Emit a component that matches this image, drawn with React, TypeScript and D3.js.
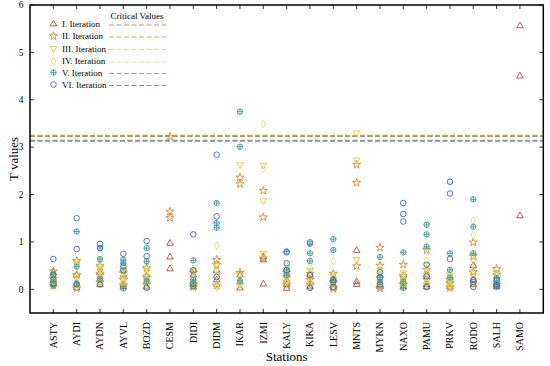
import React from "react";
import * as d3 from "d3";

const stations = ["ASTY","AYDI","AYDN","AYVL","BOZD","CESM","DIDI","DIDM","IKAR","IZMI","KALY","KIKA","LESV","MNTS","MYKN","NAXO","PAMU","PRKV","RODO","SALH","SAMO"];
const iterations = ["I. Iteration","II. Iteration","III. Iteration","IV. Iteration","V. Iteration","VI. Iteration"];
const criticalValues = [3.235, 3.228, 3.24, 3.245, 3.14, 3.128];
const yTicks = [0, 1, 2, 3, 4, 5, 6];

// values per station for each iteration (null = station excluded)
const iter1: (number[] | null)[] = [
  [0.35,0.2,0.1],[0.3,0.12,0.03],[0.35,0.2,0.1],[0.3,0.1,0.05],[0.3,0.15,0.05],[0.97,0.68,0.43],[0.3,0.15,0.05],[0.4,0.2,0.1],[0.3,0.15,0.03],[0.68,0.62,0.11],[0.2,0.1,0.02],[0.3,0.15,0.05],[0.2,0.1,0.03],[0.82,0.16,0.1],[0.3,0.1,0.05],[0.3,0.15,0.05],[0.3,0.1,0.05],[0.2,0.1,0.05],[0.5,0.2,0.1],[0.2,0.1,0.05],[5.56,4.5,1.55]
];
const iter2: (number[] | null)[] = [
  [0.38,0.22,0.08],[0.6,0.3,0.02],[0.49,0.32,0.15],[0.34,0.2,0.08],[0.45,0.27,0.1],[3.22,1.64,1.51],[0.35,0.1,0.05],[0.62,0.52,0.08],[2.36,2.22,0.35],[2.08,1.52,0.65],[0.35,0.25,0.1],[0.33,0.2,0.1],[0.33,0.15,0.01],[2.63,2.25,0.49],[0.88,0.5,0.02],[0.52,0.28,0.1],[0.83,0.41,0.2],[0.2,0.12,0.03],[0.99,0.36,0.7],[0.43,0.3,0.1],null
];
const iter3: (number[] | null)[] = [
  [0.3,0.18,0.1],[0.55,0.3,0.05],[0.45,0.38,0.2],[0.4,0.25,0.1],[0.4,0.2,0.08],null,[0.4,0.15,0.08],[0.5,0.3,0.05],[2.63,0.3,0.1],[2.62,1.87,0.76],[0.45,0.3,0.15],[0.4,0.25,0.1],[0.3,0.2,0.05],[3.3,2.73,0.63],[0.4,0.2,0.1],[0.35,0.2,0.05],[0.5,0.3,0.1],[0.3,0.15,0.05],[0.6,0.3,0.1],[0.35,0.2,0.08],null
];
const iter4: (number[] | null)[] = [
  [0.28,0.15,0.06],[0.5,0.25,0.08],[0.6,0.3,0.15],[0.45,0.3,0.15],[0.5,0.3,0.12],null,[0.38,0.2,0.1],[0.92,0.4,0.1],[0.25,0.15,0.05],[3.49,2.55,0.72],[0.5,0.35,0.2],[0.47,0.3,0.15],[0.59,0.25,0.1],null,[0.45,0.3,0.15],[0.3,0.15,0.1],[0.6,0.35,0.15],[0.35,0.2,0.1],[1.45,1.15,0.4],[0.3,0.15,0.1],null
];
const iter5: (number[] | null)[] = [
  [0.32,0.2,0.08],[1.22,0.48,0.12],[0.87,0.64,0.22],[0.62,0.55,0.02],[0.87,0.59,0.17],null,[0.61,0.2,0.07],[1.82,1.4,1.3],[3.75,3.01,0.18],null,[0.8,0.41,0.3],[0.96,0.76,0.6],[1.06,0.83,0.19],null,[0.68,0.25,0.15],[0.78,0.16,0.03],[1.36,1.16,0.9],[0.76,0.41,0.25],[1.9,1.32,0.76],[0.24,0.1,0.06],null
];
const iter6: (number[] | null)[] = [
  [0.64,0.3,0.12],[1.5,0.85,0.1],[0.96,0.87,0.1],[0.75,0.48,0.4],[1.02,0.7,0.03],null,[1.16,0.4,0.12],[2.84,1.54,0.26],null,null,[0.78,0.55,0.4],[0.99,0.3,0.03],[0.2,0.15,0.05],null,[0.36,0.25,0.1],[1.82,1.59,1.43],[0.52,0.27,0.05],[2.27,2.02,0.64],[0.2,0.05,0.15],[0.06,0.1,0.2],null
];
const allIterations = [iter1, iter2, iter3, iter4, iter5, iter6];

const markerColors = ["#a0563a", "#d08a30", "#dcc83c", "#d4e07a", "#3f9a9a", "#4068b8"];
const lineColors = ["#c49080", "#c8aa78", "#e2dc90", "#dfe8a8", "#8aacae", "#8c8cc8"];
const plotLineColors = ["#b07a60", "#a89848", "#c8c050", "#b4b45a", "#8aa4ac", "#8e86b8"];
const lineOrder = [0, 2, 3, 1, 4, 5];

const W = 550, H = 366;
const left = 30, right = 543.3, top = 5, bottom = 313;
const font = "Liberation Serif, Times New Roman, DejaVu Serif, serif";

function Marker({ kind, x, y, color }: { kind: number; x: number; y: number; color: string }) {
  const sw = 0.9;
  if (kind === 0) {
    const p = d3.symbol(d3.symbolTriangle, 19)();
    return <path d={p || ""} transform={`translate(${x},${y})`} fill="none" stroke={color} strokeWidth={sw} />;
  }
  if (kind === 1) {
    const p = d3.symbol(d3.symbolStar, 21)();
    return <path d={p || ""} transform={`translate(${x},${y})`} fill="none" stroke={color} strokeWidth={sw} />;
  }
  if (kind === 2) {
    const p = d3.symbol(d3.symbolTriangle, 19)();
    return <path d={p || ""} transform={`translate(${x},${y}) rotate(180)`} fill="none" stroke={color} strokeWidth={sw} />;
  }
  if (kind === 3) {
    const p = d3.symbol(d3.symbolDiamond, 19)();
    return <path d={p || ""} transform={`translate(${x},${y})`} fill="none" stroke={color} strokeWidth={sw} />;
  }
  if (kind === 4) {
    return (
      <g transform={`translate(${x},${y})`} fill="none" stroke={color} strokeWidth={sw}>
        <circle r={2.7} />
        <line x1={-2.7} x2={2.7} y1={0} y2={0} />
        <line x1={0} x2={0} y1={-2.7} y2={2.7} />
      </g>
    );
  }
  return <circle cx={x} cy={y} r={2.8} fill="none" stroke={color} strokeWidth={sw} />;
}

export default function App() {
  const x = d3.scaleLinear().domain([-1, stations.length]).range([left, right]);
  const y = d3.scaleLinear().domain([-0.5, 6]).range([bottom, top]);

  const legendRows = [24, 36, 48.5, 61, 72.5, 84.5];
  const ts = { fontFamily: font };

  return (
    <svg width={W} height={H} style={{ position: "absolute", left: 0, top: 0, background: "#fff", fontFamily: font }}>
      {/* critical value lines */}
      {lineOrder.map((i) => (
        <line key={"cv" + i} x1={left} x2={right} y1={y(criticalValues[i])} y2={y(criticalValues[i])} stroke={plotLineColors[i]} strokeWidth={1.4} strokeDasharray="5,2.5" />
      ))}
      {/* data */}
      {allIterations.map((it, k) =>
        it.map((vals, si) =>
          vals ? vals.map((v, j) => <Marker key={`${k}-${si}-${j}`} kind={k} x={x(si)} y={y(v)} color={markerColors[k]} />) : null
        )
      )}
      {/* frame */}
      <rect x={left} y={top} width={right - left} height={bottom - top} fill="none" stroke="#000" strokeWidth={1.5} />
      {/* y ticks */}
      {yTicks.map((t) => (
        <g key={"yt" + t}>
          <line x1={left} x2={left + 4} y1={y(t)} y2={y(t)} stroke="#000" strokeWidth={0.8} />
          <line x1={right} x2={right - 4} y1={y(t)} y2={y(t)} stroke="#000" strokeWidth={0.8} />
          <text style={ts} x={left - 9} y={y(t)} dy="0.35em" textAnchor="middle" fontSize={9.5}>{t}</text>
        </g>
      ))}
      {/* x ticks */}
      {stations.map((s, i) => (
        <g key={"xt" + s}>
          <line x1={x(i)} x2={x(i)} y1={bottom} y2={bottom - 4} stroke="#000" strokeWidth={0.8} />
          <line x1={x(i)} x2={x(i)} y1={top} y2={top + 4} stroke="#000" strokeWidth={0.8} />
          <text style={ts} transform={`translate(${x(i)},${bottom + 9}) rotate(-90)`} dy="0.35em" textAnchor="end" fontSize={10}>{s}</text>
        </g>
      ))}
      <text style={ts} transform={`translate(13,${(top + bottom) / 2}) rotate(-90)`} textAnchor="middle" dy="0.35em" fontSize={13}>T values</text>
      <text style={ts} x={(left + right) / 2} y={361} textAnchor="middle" fontSize={13}>Stations</text>
      {/* legend */}
      <text style={ts} x={137} y={15.5} dy="0.35em" textAnchor="middle" fontSize={9}>Critical Values</text>
      {iterations.map((name, i) => (
        <g key={"lg" + i}>
          <Marker kind={i} x={53.5} y={legendRows[i]} color={markerColors[i]} />
          <text style={ts} x={62} y={legendRows[i]} dy="0.35em" fontSize={9}>{name}</text>
          <line x1={109} x2={167} y1={legendRows[i] + 1} y2={legendRows[i] + 1} stroke={lineColors[i]} strokeWidth={1.2} strokeDasharray="5,2.5" />
        </g>
      ))}
    </svg>
  );
}
